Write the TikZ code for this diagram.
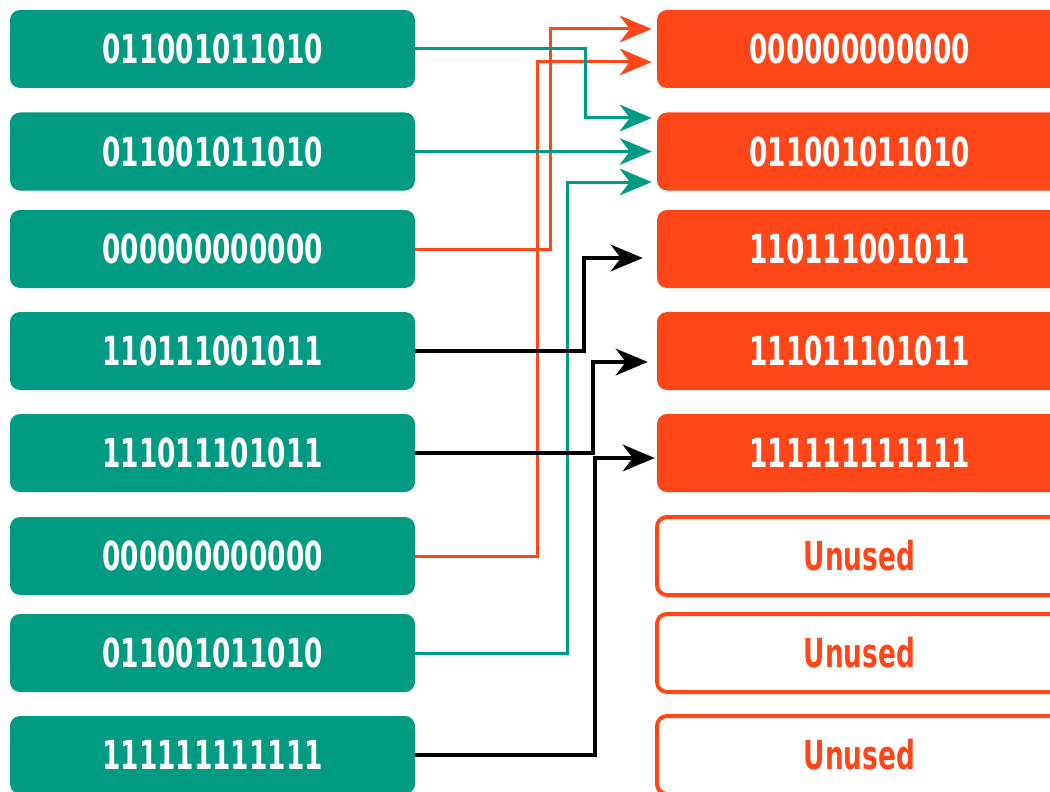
\documentclass[tikz,border=0pt]{standalone}
\usepackage{fontspec}
\newfontfamily\bitfont{DejaVu Sans Bold}[FakeStretch=0.66]
\usetikzlibrary{arrows.meta}
\definecolor{binteal}{HTML}{009B82}
\definecolor{binred}{HTML}{FF4619}
\tikzset{
  slot/.style={rounded corners=7.5pt, minimum width=303.75pt, minimum height=58.5pt,
    inner sep=0pt, font=\bitfont\fontsize{30}{30}\selectfont},
  inslot/.style={slot, fill=binteal, text=white},
  outslot/.style={slot, fill=binred, text=white},
  freeslot/.style={slot, draw=binred, line width=3pt, text=binred},
  link/.style={line width=2.25pt, -{Stealth[length=24pt,width=20pt,inset=7.5pt]}, shorten >=3.75pt},
}
\begin{document}
\begin{tikzpicture}[x=0.75pt,y=-0.75pt]
\useasboundingbox (0,0) rectangle (1050,792);
\clip (0,0) rectangle (1050,792);
% source rows
\foreach \y/\bits [count=\i] in {49/011001011010,151.5/011001011010,249/000000000000,351/110111001011,
    453/111011101011,556/000000000000,653/011001011010,755/111111111111}
  \node[inslot] (l\i) at (212.5,\y) {\bits};
% target rows
\foreach \y/\bits [count=\i] in {49/000000000000,151.5/011001011010,249/110111001011,
    351/111011101011,453/111111111111}
  \node[outslot] (r\i) at (859.5,\y) {\bits};
\foreach \y [count=\i from 6] in {556,653,755}
  \node[freeslot] (r\i) at (859.5,\y) {Unused};
% links
\draw[link,binred] (l3.east) -| (550,29) -- (r1.west |- 0,29);
\draw[link,binred] (l6.east) -| (537,62) -- (r1.west |- 0,62);
\draw[link,binteal] (l1.east) -| (585,118) -- (r2.west |- 0,118);
\draw[link,binteal] (l2.east) -- (r2.west);
\draw[link,binteal] (l7.east) -| (567,182) -- (r2.west |- 0,182);
\draw[link,line width=2.6pt,shorten >=10.5pt] (l4.east) -| (584,258) -- (r3.west |- 0,258);
\draw[link,line width=2.6pt,shorten >=6.75pt] (l5.east) -| (593,362) -- (r4.west |- 0,362);
\draw[link,line width=2.6pt,shorten >=1.5pt] (l8.east) -| (595,458) -- (r5.west |- 0,458);
\end{tikzpicture}
\end{document}
